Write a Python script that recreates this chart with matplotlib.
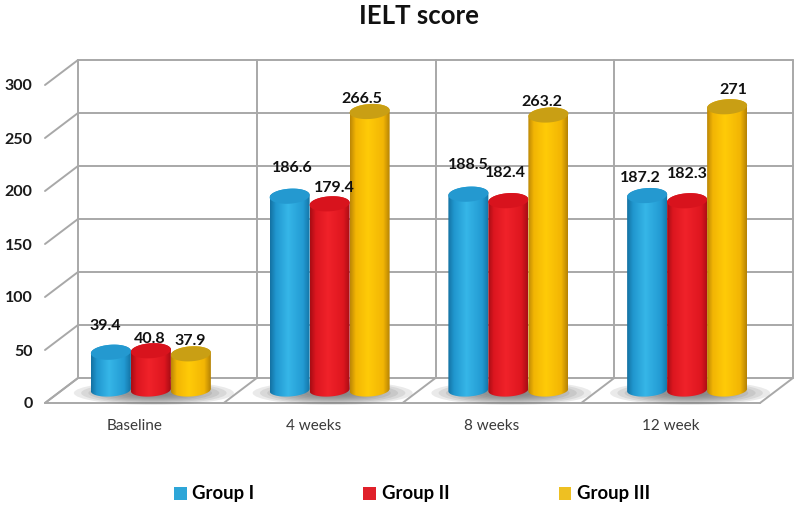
import matplotlib
matplotlib.use('Agg')
import matplotlib.pyplot as plt
import numpy as np
from matplotlib.colors import LinearSegmentedColormap
from matplotlib.patches import Ellipse, Patch, Polygon

plt.rcParams['font.family'] = ['Lato', 'DejaVu Sans']

categories = ['Baseline', '4 weeks', '8 weeks', '12 week']
groups = ['Group I', 'Group II', 'Group III']
group1 = [39.4, 186.6, 188.5, 187.2]
group2 = [40.8, 179.4, 182.4, 182.3]
group3 = [37.9, 266.5, 263.2, 271]
group1_labels = ['39.4', '186.6', '188.5', '187.2']
group2_labels = ['40.8', '179.4', '182.4', '182.3']
group3_labels = ['37.9', '266.5', '263.2', '271']
yticks = [0, 50, 100, 150, 200, 250, 300]

# edge, mid, highlight, mid, edge of each cylinder
body_colors = [['#1472a3', '#2096ce', '#36b6e8', '#229ad2', '#1474a6'],
               ['#a80d14', '#dc161f', '#f0222a', '#de161f', '#a90d14'],
               ['#bd8806', '#f2b504', '#ffcb08', '#f2b504', '#b68305']]
color_stops = [0, 0.14, 0.45, 0.84, 1]
top_colors = ['#2499d0', '#d8131d', '#c99f14']
legend_colors = ['#2ea6d8', '#e0202a', '#eec022']

# label shift from the bar top centre, in pixels
label_shift = [[(-6, 26), (3, 28), (0, 29), (-7, 18)],
               [(-1, 12), (5, 16), (-3, 28), (0, 27)],
               [(-1, 13), (-8, 13), (-7, 13), (6, 17)]]

W, H = 800, 514
left, right, floor_y, top_y = 45, 760, 403, 85
dx_px, dy_px = 33, 25

fig = plt.figure(figsize=(W / 100, H / 100), dpi=100)
ax = fig.add_axes([left / W, 1 - floor_y / H, (right - left) / W, (floor_y - top_y) / H])
ax.set_xlim(0, 4)
ax.set_ylim(0, 300)
xpx = (right - left) / 4.0
ypx = (floor_y - top_y) / 300.0
dx = dx_px / xpx
dy = dy_px / ypx
grid_c = '#a8a8a8'


def gridline(xs, ys):
    ax.plot(xs, ys, color=grid_c, lw=1.4, clip_on=False, zorder=1, solid_capstyle='round')


for t in yticks:
    gridline([0, dx], [t, t + dy])
    gridline([dx, 4 + dx], [t + dy, t + dy])
gridline([0, 4], [0, 0])
for i in range(5):
    gridline([i, i + dx], [0, dy])
    gridline([i + dx, i + dx], [dy, 300 + dy])

values = [group1, group2, group3]
labels = [group1_labels, group2_labels, group3_labels]
bar_w = 40 / xpx
half_px = 20.0
base_shift = 9 / ypx      # where the value scale starts for the bars
bottom_c = 13 / ypx       # centre of the bottom ellipse
top_b = 7.5
bot_b = 6.5
tilt = 0.06

# floor shadows
for i in range(4):
    cx = i + 0.5 + 16.5 / xpx
    for k in range(10):
        s = 1 - k / 11.0
        ax.add_patch(Ellipse((cx + 3 / xpx, 10 / ypx), (160 * s) / xpx, (24 * s) / ypx,
                             facecolor='#606060', edgecolor='none', alpha=0.13,
                             clip_on=False, zorder=2))

t = np.linspace(0, 2 * np.pi, 80)
for g in range(3):
    cmap = LinearSegmentedColormap.from_list('c{}'.format(g), list(zip(color_stops, body_colors[g])))
    grad = np.linspace(0, 1, 64).reshape(1, -1)
    for i in range(4):
        v = values[g][i]
        cx = i + 0.5 + 16.5 / xpx + (g - 1) * bar_w
        ytop = v + base_shift
        # outline: lower half of the bottom, up the right, back along the top
        tb = np.linspace(np.pi, 2 * np.pi, 40)
        xs_b = cx + bar_w / 2 * np.cos(tb)
        ys_b = bottom_c + (bot_b * np.sin(tb) + tilt * half_px * np.cos(tb)) / ypx
        tt = np.linspace(0, np.pi, 40)
        xs_t = cx + bar_w / 2 * np.cos(tt)
        ys_t = ytop + (top_b * np.sin(tt) + tilt * half_px * np.cos(tt)) / ypx
        verts = np.column_stack([np.r_[xs_b, xs_t], np.r_[ys_b, ys_t]])
        z = 3 + g + i * 0.01
        im = ax.imshow(grad, cmap=cmap, aspect='auto', zorder=z,
                       extent=[cx - bar_w / 2, cx + bar_w / 2, 0, ytop + 10 / ypx])
        clip = Polygon(verts, closed=True, transform=ax.transData)
        im.set_clip_path(clip)
        xs_e = cx + bar_w / 2 * np.cos(t)
        ys_e = ytop + (top_b * np.sin(t) + tilt * half_px * np.cos(t)) / ypx
        ax.fill(xs_e, ys_e, color=top_colors[g], zorder=z + 0.001, clip_on=False, lw=0)
        sx, sy = label_shift[g][i]
        ax.annotate(labels[g][i], (cx, ytop), xytext=(sx * 0.72, sy * 0.72),
                    textcoords='offset points', ha='center', va='center',
                    fontsize=11.5, fontweight='bold', color='#111111', zorder=10,
                    annotation_clip=False)

ax.set_xlim(0, 4)
ax.set_ylim(0, 300)
ax.set_xticks([0.5, 1.5, 2.5, 3.5])
ax.set_xticklabels(categories, fontsize=11, color='#3a3a3a')
ax.set_yticks(yticks)
ax.set_yticklabels([str(y) for y in yticks], fontsize=11.5, fontweight='bold', color='#1a1a1a')
ax.tick_params(axis='x', length=0, pad=11.5)
ax.tick_params(axis='y', length=0, pad=9)
for s in ax.spines.values():
    s.set_visible(False)
ax.patch.set_visible(False)

fig.text(419 / W, 1 - 16 / H, 'IELT score', ha='center', va='center',
         fontsize=18.5, fontweight='bold', color='#111111')

handles = [Patch(facecolor=legend_colors[k], edgecolor='none', label=groups[k]) for k in range(3)]
fig.legend(handles=handles, ncol=3, loc='center', bbox_to_anchor=(412 / W, 1 - 494 / H),
           frameon=False, prop={'weight': 'bold', 'size': 13.3},
           handlelength=0.7, handleheight=0.7, handletextpad=0.3, columnspacing=5.9)

fig.savefig('out.png', dpi=100, facecolor='white')
